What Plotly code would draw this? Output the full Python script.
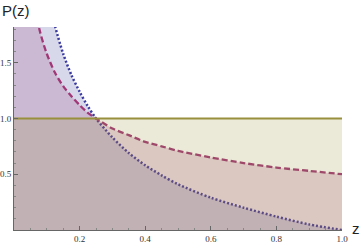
import plotly.graph_objects as go

# z grid
z = [0, 0.04, 0.06, 0.08, 0.1, 0.125, 0.15, 0.175, 0.2, 0.225, 0.25,
     0.3, 0.35, 0.4, 0.45, 0.5, 0.6, 0.7, 0.8, 0.9, 1.0]
# dotted (blue) curve values (values above ~1.82 are off-chart)
p_dotted = [6.0, 4.0, 3.08, 2.54, 2.16, 1.83, 1.58, 1.39, 1.24, 1.11, 1.00,
            0.83, 0.69, 0.58, 0.49, 0.41, 0.29, 0.20, 0.12, 0.05, 0.00]
# dashed (magenta) curve values
p_dashed = [3.0, 2.50, 2.04, 1.77, 1.58, 1.41, 1.29, 1.20, 1.12, 1.05, 1.00,
            0.91, 0.85, 0.79, 0.75, 0.71, 0.65, 0.60, 0.56, 0.53, 0.50]
# flat (olive) line
z_flat = [0, 1.0]
p_flat = [1.0, 1.0]

x_ticks = [0.2, 0.4, 0.6, 0.8, 1.0]
x_ticklabels = ["0.2", "0.4", "0.6", "0.8", "1.0"]
y_ticks = [0.5, 1.0, 1.5]
y_ticklabels = ["0.5", "1.0", "1.5"]

blue = "rgb(58,58,160)"
mag = "rgb(160,55,118)"
olive = "rgb(153,144,61)"

fig = go.Figure()
fig.add_trace(go.Scatter(x=z, y=p_dotted, mode="lines",
                         line=dict(color=blue, width=2.5, dash="2px,2px", shape="spline", smoothing=0.8),
                         fill="tozeroy", fillcolor="rgba(61,61,153,0.2)"))
fig.add_trace(go.Scatter(x=z, y=p_dashed, mode="lines",
                         line=dict(color=mag, width=2.3, dash="6px,3px", shape="spline", smoothing=0.8),
                         fill="tozeroy", fillcolor="rgba(153,61,116,0.2)"))
fig.add_trace(go.Scatter(x=z_flat, y=p_flat, mode="lines",
                         line=dict(color=olive, width=2),
                         fill="tozeroy", fillcolor="rgba(153,144,61,0.2)"))

tickfont = dict(family="Liberation Serif", size=9, color="#333")
fig.update_layout(
    width=364, height=243,
    margin=dict(l=14, r=22, t=27, b=13),
    paper_bgcolor="white", plot_bgcolor="white",
    showlegend=False,
    xaxis=dict(range=[0, 1.0], showgrid=False, zeroline=False, automargin=False,
               showline=True, linecolor="#666", linewidth=1,
               ticks="inside", ticklen=4, tickcolor="#666",
               tickvals=x_ticks, ticktext=x_ticklabels, tickfont=tickfont,
               minor=dict(dtick=0.05, ticks="inside", ticklen=2, tickcolor="#888")),
    yaxis=dict(range=[0, 1.82], showgrid=False, zeroline=False, automargin=False,
               showline=True, linecolor="#666", linewidth=1,
               ticks="inside", ticklen=4, tickcolor="#666",
               tickvals=y_ticks, ticktext=y_ticklabels, tickfont=tickfont,
               minor=dict(dtick=0.1, ticks="inside", ticklen=2, tickcolor="#888")),
    annotations=[
        dict(text="P(z)", xref="paper", yref="paper", x=0, y=1, xshift=-14, yshift=27,
             xanchor="left", yanchor="top", showarrow=False,
             font=dict(family="Liberation Sans", size=15, color="#222")),
        dict(text="z", xref="paper", yref="paper", x=1, y=0, xshift=8, yshift=2,
             xanchor="left", yanchor="middle", showarrow=False,
             font=dict(family="Liberation Sans", size=15, color="#222")),
    ],
)
fig.write_html("out.html", config={"displayModeBar": False},
               post_script="document.body.style.margin='0';")
